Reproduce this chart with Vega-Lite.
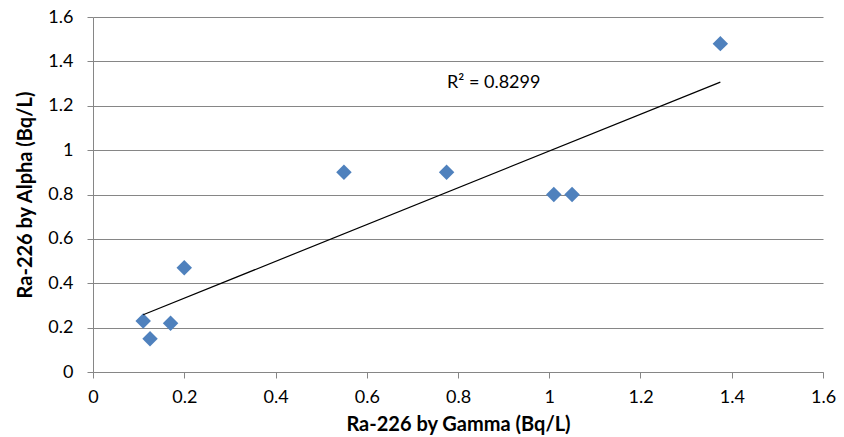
{
  "$schema": "https://vega.github.io/schema/vega-lite/v6.json",
  "width": 730,
  "height": 355,
  "autosize": {"type": "none"},
  "padding": {"left": 93, "top": 17, "right": 21, "bottom": 65},
  "background": "white",
  "config": {
    "view": {"stroke": null},
    "font": "Lato",
    "axis": {
      "labelFont": "Lato",
      "titleFont": "Lato",
      "labelFontSize": 18,
      "titleFontSize": 20,
      "titleFontWeight": "bold",
      "labelColor": "#000000",
      "titleColor": "#000000",
      "domainColor": "#868686",
      "tickColor": "#868686",
      "gridColor": "#868686",
      "gridWidth": 1,
      "tickSize": 6,
      "format": "~g"
    }
  },
  "data": {
    "values": [
      {"gamma": 0.11, "alpha": 0.23},
      {"gamma": 0.125, "alpha": 0.15},
      {"gamma": 0.17, "alpha": 0.22},
      {"gamma": 0.2, "alpha": 0.47},
      {"gamma": 0.55, "alpha": 0.9},
      {"gamma": 0.775, "alpha": 0.9},
      {"gamma": 1.01, "alpha": 0.8},
      {"gamma": 1.05, "alpha": 0.8},
      {"gamma": 1.375, "alpha": 1.48}
    ]
  },
  "layer": [
    {
      "mark": {"type": "point", "shape": "diamond", "filled": true, "color": "#4F81BD", "size": 240, "opacity": 1},
      "encoding": {
        "x": {
          "field": "gamma", "type": "quantitative",
          "scale": {"domain": [0, 1.6], "nice": false, "zero": true},
          "axis": {"values": [0, 0.2, 0.4, 0.6, 0.8, 1, 1.2, 1.4, 1.6], "grid": false, "title": "Ra-226 by Gamma (Bq/L)", "labelPadding": 10, "titlePadding": 8, "labelOverlap": false, "labelFlush": false}
        },
        "y": {
          "field": "alpha", "type": "quantitative",
          "scale": {"domain": [0, 1.6], "nice": false},
          "axis": {"values": [0, 0.2, 0.4, 0.6, 0.8, 1, 1.2, 1.4, 1.6], "grid": true, "title": "Ra-226 by Alpha (Bq/L)", "labelPadding": 14, "titlePadding": 12, "labelOverlap": false, "labelFlush": false}
        }
      }
    },
    {
      "mark": {"type": "line", "color": "#000000", "strokeWidth": 1.2},
      "transform": [{"regression": "alpha", "on": "gamma"}],
      "encoding": {
        "x": {"field": "gamma", "type": "quantitative"},
        "y": {"field": "alpha", "type": "quantitative"}
      }
    },
    {
      "data": {"values": [{"x": 0.776, "y": 1.303, "label": "R² = 0.8299"}]},
      "mark": {"type": "text", "align": "left", "baseline": "middle", "font": "Lato", "fontSize": 18, "color": "#000000"},
      "encoding": {
        "x": {"field": "x", "type": "quantitative"},
        "y": {"field": "y", "type": "quantitative"},
        "text": {"field": "label"}
      }
    }
  ]
}
